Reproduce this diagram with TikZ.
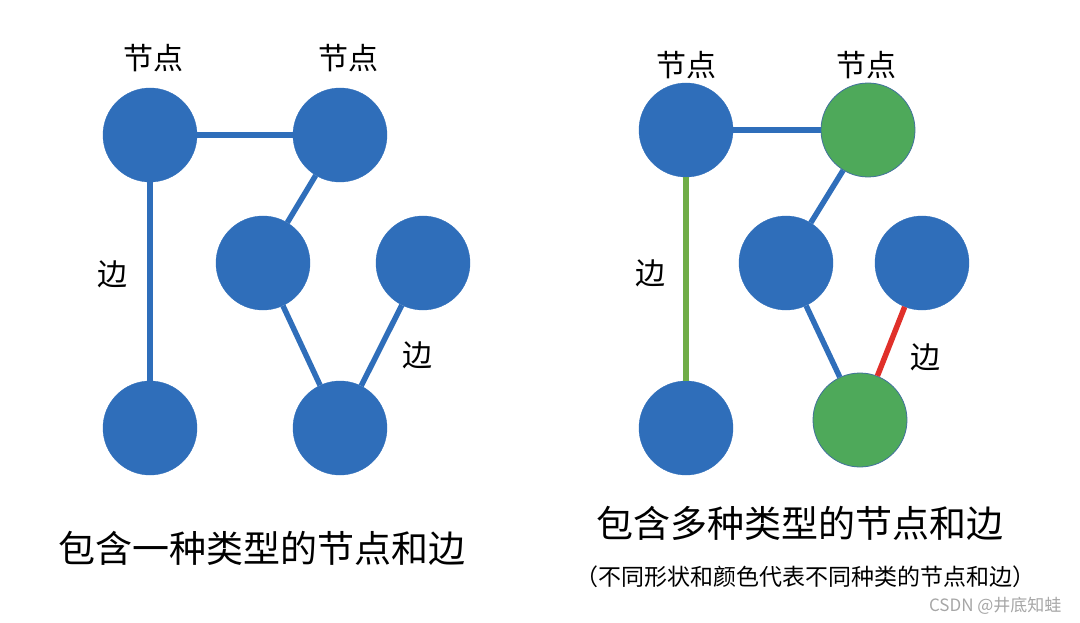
\documentclass[tikz,border=0pt]{standalone}
\usepackage{fontspec}
\newfontfamily\cjk{Noto Sans CJK SC}
\usetikzlibrary{positioning}
\definecolor{nodeblue}{HTML}{2F6EBA}
\definecolor{nodegreen}{HTML}{4EA95A}
\definecolor{edgegreen}{HTML}{70AD47}
\definecolor{edgered}{HTML}{E0302A}
\definecolor{rimgray}{HTML}{41719C}

\begin{document}
\begin{tikzpicture}[x=1pt, y=-1pt,
    vertex/.style={circle, fill=nodeblue, draw=nodeblue, inner sep=0pt, minimum size=94pt},
    gvertex/.style={vertex, fill=nodegreen, draw=rimgray, line width=0.8pt},
    link/.style={draw=nodeblue, line width=5.5pt},
    tag/.style={font=\cjk\fontsize{30}{32}\selectfont},
    title/.style={font=\cjk\fontsize{37}{40}\selectfont}]
            \useasboundingbox (0,0) rectangle (1080,623);

            % left graph
            \node[vertex] (a) at (150, 135) {};
            \node[vertex] (b) at (340, 135) {};
            \node[vertex] (c) at (263, 263) {};
            \node[vertex] (d) at (423, 263) {};
            \node[vertex] (e) at (150, 428) {};
            \node[vertex] (f) at (340, 428) {};

            \draw[link] (a) -- (b);
            \draw[link] (a) -- (e);
            \draw[link] (b) -- (c);
            \draw[link] (c) -- (f);
            \draw[link] (f) -- (d);

            \node[tag] (ta) at (153, 58) {节点};
            \node[tag] (tb) at (348, 58) {节点};
            \node[tag] (ea) at (112, 274) {边};
            \node[tag] (eb) at (417, 355) {边};

            % right graph
            \node[vertex] (a2) at (686, 130) {};
            \node[gvertex] (b2) at (868, 130) {};
            \node[vertex] (c2) at (786, 263) {};
            \node[vertex] (d2) at (922, 263) {};
            \node[vertex] (e2) at (686, 428) {};
            \node[gvertex] (f2) at (860, 420) {};

            \draw[link] (a2) -- (b2);
            \draw[link, draw=edgegreen] (a2) -- (e2);
            \draw[link] (b2) -- (c2);
            \draw[link] (c2) -- (f2);
            \draw[link, draw=edgered] (f2) -- (d2);

            \node[tag] (ta2) at (686, 65) {节点};
            \node[tag] (tb2) at (866, 65) {节点};
            \node[tag] (ea2) at (650, 273) {边};
            \node[tag] (eb2) at (925, 357) {边};

            % captions
            \node[title] (cap1) at (262, 548) {包含一种类型的节点和边};
            \node[title] (cap2) at (800, 523) {包含多种类型的节点和边};
            \node[font=\cjk\fontsize{23}{26}\selectfont] (note) at (805, 577) {（不同形状和颜色代表不同种类的节点和边）};
            \node[font=\cjk\fontsize{17}{20}\selectfont, text=gray!70, anchor=east] (mark) at (1065, 606) {CSDN @井底知蛙};

          \end{tikzpicture}
\end{document}
